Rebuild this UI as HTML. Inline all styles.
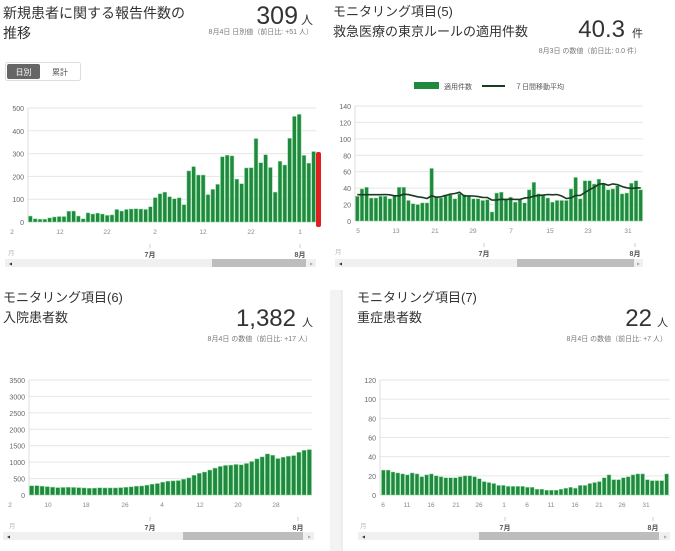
<!DOCTYPE html>
<html><head><meta charset="utf-8"><style>
html,body{margin:0;padding:0;background:#fff;width:675px;height:551px;overflow:hidden}
svg{display:block}
text{font-family:"Liberation Sans","Noto Sans CJK JP",sans-serif}
</style></head><body>
<svg id="s" width="675" height="551" xmlns="http://www.w3.org/2000/svg"></svg>
<script>
const S=document.getElementById('s');let h='';
function t(x,y,s,sz,c,a,w){h+=`<text x="${x}" y="${y}" font-size="${sz}" fill="${c||'#333'}" text-anchor="${a||'start'}"${w?` font-weight="${w}"`:''}>${s}</text>`;}
function r(x,y,w,hh,f,extra){h+=`<rect x="${x}" y="${y}" width="${w}" height="${hh}" fill="${f}" ${extra||''}/>`;}
function l(x1,y1,x2,y2,c,w){h+=`<line x1="${x1}" y1="${y1}" x2="${x2}" y2="${y2}" stroke="${c}" stroke-width="${w||1}"/>`;}
function chart(o){
 for(let i=0;i<=o.n;i++){const y=o.y0-(o.y0-o.y1)*i/o.n;l(o.x0,y,o.x1,y,'#e6e6e6');t(o.x0-4,y+3,o.step*i,7,'#666','end');}
 l(o.x0,o.y1,o.x0,o.y0,'#ddd');
 const bw=(o.bx1-o.bx0)/o.d.length;
 o.d.forEach((v,i)=>{const hh=v/o.max*(o.y0-o.y1);r((o.bx0+i*bw+0.5).toFixed(2),(o.y0-hh).toFixed(2),(bw-1).toFixed(2),hh.toFixed(2),'#1f8a3e','stroke="#8fd89f" stroke-width="0.5"');});
 o.ticks.forEach(([x,s])=>{t(x,o.y0+12,s,6.5,'#888','middle');});
 t(o.x0+ -20,o.y0+33,'月',6.5,'#bbb','start');
 o.months.forEach(([x,s])=>{l(x,o.y0+22,x,o.y0+26,'#ccc');t(x,o.y0+35,s,7,'#555','middle','bold');});
 r(o.sx0,o.sy,o.sx1-o.sx0,8,'#f0f0f0');r(o.tx0,o.sy,o.tx1-o.tx0,8,'#bdbdbd');
 t(o.sx0+4,o.sy+6.5,'◂',6,'#333');t(o.sx1-6,o.sy+6.5,'▸',6,'#aaa');
}
t(3,18,'新規患者に関する報告件数の',14,'#333');t(3,38,'推移',14,'#333');
t(298,24,'309',25,'#333','end');t(313,24,'人',12,'#333','end');
t(313,34,'8月4日 日別値（前日比: +51 人）',7,'#777','end');
r(5.5,62.5,75,18,'#fff','stroke="#ddd" rx="2"');r(7,64,33,15,'#666','rx="2"');
t(23.5,75,'日別',8,'#fff','middle');t(60,75,'累計',8,'#555','middle');
const d1=[26,14,12,12,18,22,24,24,47,48,26,14,40,35,39,35,29,31,55,48,55,57,58,57,55,67,107,124,131,111,102,106,76,224,243,206,206,120,143,165,286,293,290,188,168,237,238,366,260,295,239,131,266,250,367,463,472,292,258,309];
chart({x0:28,x1:316,y0:222,y1:108,n:5,step:100,max:500,d:d1,bx0:28,bx1:316,
 ticks:[[12,'2'],[60,'12'],[107,'22'],[155,'2'],[203,'12'],[251,'22'],[300,'1']],months:[[150,'7月'],[300,'8月']],sx0:5,sx1:316,sy:259,tx0:212,tx1:306});
r(316,152,5,75,'#e02020','rx="2"');
t(333,16,'モニタリング項目(5)',13,'#333');t(333,36,'救急医療の東京ルールの適用件数',13,'#333');
t(625,37,'40.3',24,'#333','end');t(643,37,'件',11,'#333','end');
t(641,53,'8月3日 の数値（前日比: 0.0 件）',7,'#777','end');
r(414,82,25,7,'#1f8a3e');t(444,89,'適用件数',7,'#555');l(482,86,505,86,'#1a3a22',2);t(515,89,'７日間移動平均',7,'#555');
const d2=[30,39,41,28,28,30,30,27,31,41,41,25,21,20,22,22,64,29,28,32,32,27,33,32,30,27,27,25,26,11,34,35,26,29,23,26,22,38,47,33,32,28,23,25,25,25,39,53,27,49,49,45,51,45,38,39,43,33,34,46,49,38];
chart({x0:355,x1:643,y0:221,y1:106,n:7,step:20,max:140,d:d2,bx0:355,bx1:643,
 ticks:[[358,'5'],[396,'13'],[435,'21'],[473,'29'],[511,'7'],[550,'15'],[588,'23'],[628,'31']],months:[[484,'7月'],[635,'8月']],sx0:335,sx1:643,sy:259,tx0:517,tx1:634});
{const bw=288/d2.length;let p=[];for(let i=0;i<d2.length;i++){let s=0,c=0;for(let j=Math.max(0,i-6);j<=i;j++){s+=d2[j];c++;}const v=i<6?32:s/c;p.push(`${(355+(i+.5)*bw).toFixed(1)},${(221-v/140*115).toFixed(1)}`);}h+=`<polyline points="${p.join(' ')}" fill="none" stroke="#1a3a22" stroke-width="1.6"/>`;}
t(3,302,'モニタリング項目(6)',13,'#333');t(3,322,'入院患者数',13,'#333');
t(296,326,'1,382',24,'#333','end');t(313,326,'人',11,'#333','end');
t(312,341,'8月4日 の数値（前日比: +17 人）',7,'#777','end');
const d3=[280,285,270,255,240,225,230,235,230,225,215,205,210,220,215,215,215,225,235,250,270,275,300,330,350,390,420,430,440,480,520,600,660,700,760,820,870,900,910,930,920,960,1020,1100,1160,1250,1210,1110,1150,1180,1200,1300,1360,1382];
chart({x0:29,x1:312,y0:495,y1:380,n:7,step:500,max:3500,d:d3,bx0:29,bx1:312,
 ticks:[[10,'2'],[48,'10'],[86,'18'],[125,'26'],[162,'4'],[200,'12'],[238,'20'],[276,'28']],months:[[150,'7月'],[298,'8月']],sx0:3,sx1:314,sy:532,tx0:183,tx1:303});
r(330,290,12,261,'#f3f3f3');l(342,290,342,551,'#e0e0e0');
t(357,302,'モニタリング項目(7)',13,'#333');t(357,322,'重症患者数',13,'#333');
t(652,326,'22',24,'#333','end');t(668,326,'人',11,'#333','end');
t(667,341,'8月4日 の数値（前日比: +7 人）',7,'#777','end');
const d4=[26,26,24,23,22,21,23,22,19,21,22,20,19,18,18,18,19,20,20,19,17,14,13,12,10,10,9,9,9,9,8,8,6,6,5,5,5,6,7,8,7,10,10,12,13,14,18,21,16,16,18,19,21,22,22,16,15,15,15,22];
chart({x0:380,x1:670,y0:495,y1:380,n:6,step:20,max:120,d:d4,bx0:381,bx1:669,
 ticks:[[383,'6'],[407,'11'],[431,'16'],[456,'21'],[479,'26'],[504,'1'],[527,'6'],[551,'11'],[575,'16'],[599,'21'],[622,'26'],[646,'31']],months:[[505,'7月'],[653,'8月']],sx0:358,sx1:670,sy:532,tx0:479,tx1:659});
S.innerHTML=h;
</script>
</body></html>
